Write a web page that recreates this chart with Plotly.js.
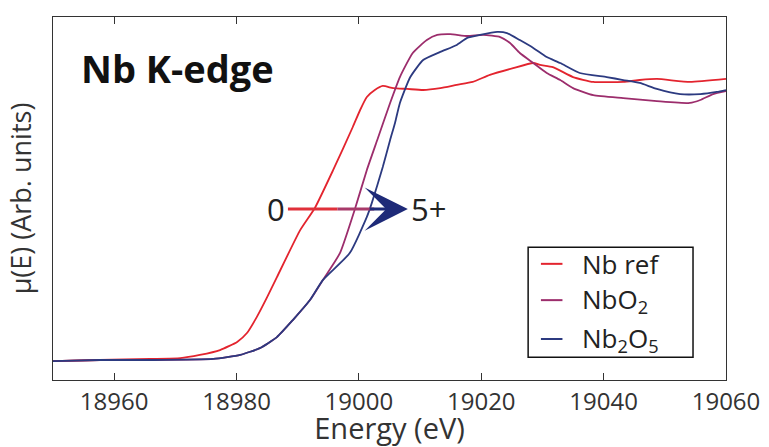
<!DOCTYPE html>
<html>
<head>
<meta charset="utf-8">
<script src="https://cdn.plot.ly/plotly-3.0.1.min.js"></script>
<style>html,body{margin:0;padding:0;background:#fff;}#chart{width:769px;height:447px;}</style>
</head>
<body>
<div id="chart"></div>
<script>
// Energy (eV) and normalized absorption mu(E)
const nbRefE = [18950.0,18957.7,18965.9,18970.8,18974.0,18977.3,18980.1,18981.7,18983.3,18985.0,18986.6,18990.4,18992.8,18995.8,18999.0,19000.2,19001.3,19002.6,19003.9,19005.6,19007.9,19010.5,19013.3,19016.0,19018.6,19021.4,19025.2,19028.5,19029.6,19031.7,19035.0,19038.3,19043.2,19045.9,19048.7,19054.1,19060.0];
const nbRefMu = [-0.004,0.0,0.004,0.007,0.019,0.037,0.067,0.100,0.159,0.233,0.307,0.481,0.563,0.704,0.863,0.926,0.974,1.0,1.015,1.007,1.004,1.0,1.007,1.019,1.030,1.056,1.081,1.100,1.093,1.085,1.048,1.030,1.030,1.037,1.041,1.030,1.041];

const nbo2E = [18950.0,18957.7,18965.9,18976.2,18980.6,18983.8,18986.6,18989.2,18992.0,18994.1,18996.9,18999.4,19001.3,19003.0,19005.1,19006.7,19008.8,19011.1,19012.8,19014.9,19017.7,19020.3,19023.1,19024.7,19026.3,19028.5,19030.7,19032.9,19035.0,19038.3,19043.2,19048.7,19054.1,19055.8,19057.9,19060.0];
const nbo2Mu = [-0.004,0.0,0.0,0.004,0.019,0.044,0.085,0.148,0.222,0.296,0.396,0.563,0.704,0.815,0.952,1.048,1.137,1.185,1.204,1.207,1.200,1.204,1.196,1.174,1.137,1.100,1.063,1.037,1.007,0.981,0.970,0.959,0.952,0.963,0.985,0.996];

const nb2o5E = [18950.0,18957.7,18965.9,18976.2,18980.6,18983.8,18986.6,18989.2,18992.0,18994.1,18998.5,19001.3,19002.1,19003.9,19005.1,19005.9,19006.7,19008.4,19010.5,19013.3,19016.0,19017.7,19019.8,19022.6,19024.2,19026.3,19028.5,19030.7,19032.9,19036.1,19040.5,19043.2,19045.9,19048.7,19052.5,19055.8,19058.5,19060.0];
const nb2o5Mu = [-0.004,0.0,0.0,0.004,0.019,0.044,0.085,0.148,0.222,0.296,0.396,0.530,0.581,0.715,0.815,0.878,0.952,1.048,1.111,1.141,1.167,1.193,1.204,1.215,1.211,1.185,1.156,1.122,1.100,1.063,1.048,1.037,1.026,1.004,0.985,0.985,0.993,1.0];

const seriesNames = ["Nb ref", "NbO<sub>2</sub>", "Nb<sub>2</sub>O<sub>5</sub>"];
const xTicks = [18960, 18980, 19000, 19020, 19040, 19060];

// oxidation arrow (0 -> 5+)
const arrowStartE = 18988.4, arrowTipE = 19008.0, arrowMu = 0.559;

const colors = ["#e3242e", "#9c2d6c", "#2c3a80"];

const traces = [nbRefE, nbo2E, nb2o5E].map((xs, i) => ({
  x: xs, y: [nbRefMu, nbo2Mu, nb2o5Mu][i], name: seriesNames[i], mode: "lines",
  line: {color: colors[i], width: 1.8, shape: "spline", smoothing: 0.5}
}));

const font = "Open Sans, Noto Sans, sans-serif";

// legend box drawn in paper coordinates (layout only)
const legBox = {x0: 0.706, x1: 0.951, y0: 0.063, y1: 0.366};
const legRowY = [0.320, 0.220, 0.113];
const legSampleX = [0.725, 0.757];
const legTextX = 0.783;

const shapes = [
  {type: "line", xref: "x", yref: "y", x0: arrowStartE, x1: 18996.5, y0: arrowMu, y1: arrowMu,
   line: {color: "#e0303a", width: 3}},
  {type: "line", xref: "x", yref: "y", x0: 18996.5, x1: 19002.5, y0: arrowMu, y1: arrowMu,
   line: {color: "#a83a6a", width: 3}},
  {type: "rect", xref: "paper", yref: "paper", x0: legBox.x0, x1: legBox.x1, y0: legBox.y0, y1: legBox.y1,
   fillcolor: "#fff", line: {color: "#111", width: 1.5}, layer: "above"}
];
const annotations = [
  {x: arrowTipE, y: arrowMu, xref: "x", yref: "y", ax: 19001.5, ay: arrowMu, axref: "x", ayref: "y",
   text: "", showarrow: true, arrowhead: 3, arrowsize: 2.4, arrowwidth: 3, arrowcolor: "#1e2a78"},
  {x: arrowStartE, y: arrowMu, xref: "x", yref: "y", text: "0", showarrow: false,
   xanchor: "right", xshift: -1, font: {size: 31, family: font, color: "#222"}},
  {x: arrowTipE, y: arrowMu, xref: "x", yref: "y", text: "5+", showarrow: false,
   xanchor: "left", xshift: 1, font: {size: 31, family: font, color: "#222"}},
  {x: 0.038, y: 0.86, xref: "paper", yref: "paper", text: "<b>Nb K-edge</b>", showarrow: false,
   xanchor: "left", yanchor: "middle", font: {size: 38, family: font, color: "#111"}}
];
seriesNames.forEach((nm, i) => {
  shapes.push({type: "line", xref: "paper", yref: "paper", x0: legSampleX[0], x1: legSampleX[1],
    y0: legRowY[i], y1: legRowY[i], line: {color: colors[i], width: 2}, layer: "above"});
  annotations.push({x: legTextX, y: legRowY[i], xref: "paper", yref: "paper", text: nm,
    showarrow: false, xanchor: "left", yanchor: "middle",
    font: {size: 26, family: font, color: "#222"}});
});

const layout = {
  width: 769, height: 447,
  margin: {l: 53, r: 43, t: 17, b: 67},
  paper_bgcolor: "#fff", plot_bgcolor: "#fff",
  font: {family: font, color: "#222"},
  showlegend: false,
  xaxis: {
    range: [18950, 19060], automargin: false,
    tickvals: xTicks, ticktext: xTicks.map(String),
    ticks: "inside", ticklen: 7, tickcolor: "#333",
    showline: true, linecolor: "#333", linewidth: 1.2, mirror: "ticks",
    showgrid: false, zeroline: false,
    tickfont: {size: 24, color: "#333"},
    title: {text: "Energy (eV)", font: {size: 29, color: "#333"}}
  },
  yaxis: {
    range: [-0.074, 1.2704], automargin: false,
    showticklabels: false, ticks: "",
    showline: true, linecolor: "#333", linewidth: 1.2, mirror: true,
    showgrid: false, zeroline: false,
    title: {text: "\u03bc(E) (Arb. units)", font: {size: 27, color: "#333"}, standoff: 12}
  },
  shapes: shapes,
  annotations: annotations
};

Plotly.newPlot("chart", traces, layout, {displayModeBar: false, staticPlot: true});
</script>
</body>
</html>
